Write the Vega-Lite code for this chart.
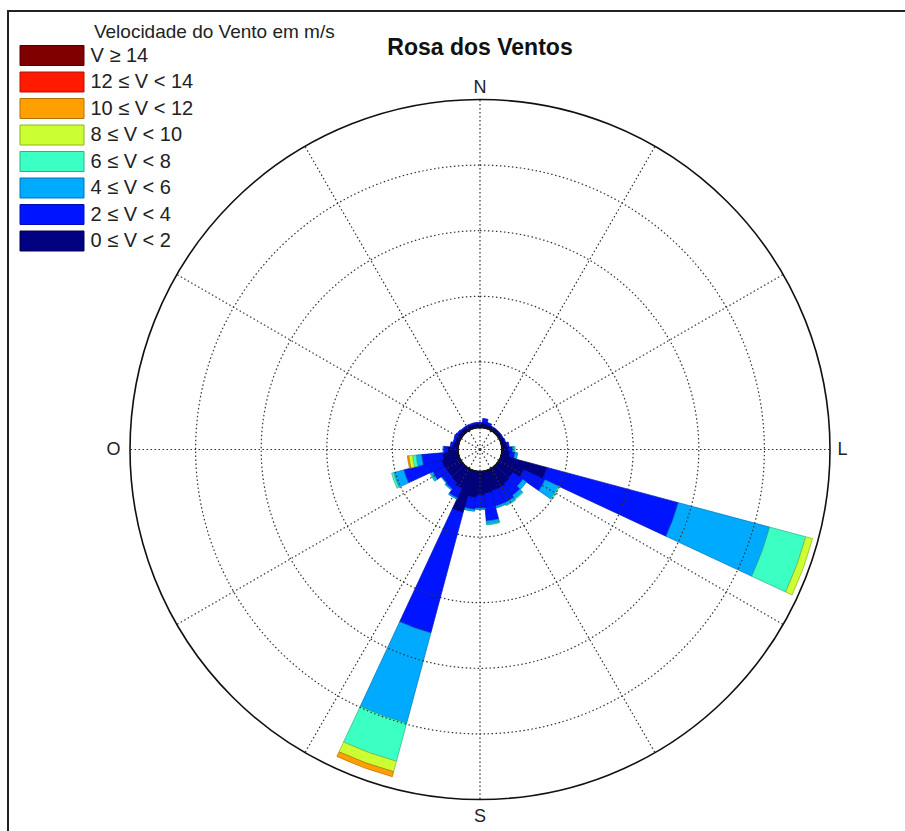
{
  "$schema": "https://vega.github.io/schema/vega-lite/v6.json",
  "width": 944,
  "height": 877,
  "autosize": {"type": "none"},
  "padding": {"left": 8, "top": 11, "right": 0, "bottom": 0},
  "background": "white",
  "config": {"font": "Liberation Sans", "view": {"stroke": "#222", "strokeWidth": 2}},
  "title": {"text": "Rosa dos Ventos", "fontSize": 23, "fontWeight": "bold", "font": "Liberation Sans", "color": "#111", "anchor": "middle", "frame": "group", "offset": -67, "baseline": "alphabetic"},
  "datasets": {
    "bins": [
      {"vmin": 0, "label": "0 ≤ V < 2"},
      {"vmin": 2, "label": "2 ≤ V < 4"},
      {"vmin": 4, "label": "4 ≤ V < 6"},
      {"vmin": 6, "label": "6 ≤ V < 8"},
      {"vmin": 8, "label": "8 ≤ V < 10"},
      {"vmin": 10, "label": "10 ≤ V < 12"},
      {"vmin": 12, "label": "12 ≤ V < 14"},
      {"vmin": 14, "label": "V ≥ 14"}
    ],
    "rose": [
      {"dir": 0, "vmin": 0, "freq": 0.3}, {"dir": 0, "vmin": 2, "freq": 0.1},
      {"dir": 10, "vmin": 0, "freq": 0.35}, {"dir": 10, "vmin": 2, "freq": 0.35},
      {"dir": 20, "vmin": 0, "freq": 0.3}, {"dir": 20, "vmin": 2, "freq": 0.15},
      {"dir": 30, "vmin": 0, "freq": 0.25}, {"dir": 30, "vmin": 2, "freq": 0.05},
      {"dir": 40, "vmin": 0, "freq": 0.25}, {"dir": 40, "vmin": 2, "freq": 0.05},
      {"dir": 50, "vmin": 0, "freq": 0.25}, {"dir": 50, "vmin": 2, "freq": 0.05},
      {"dir": 60, "vmin": 0, "freq": 0.25}, {"dir": 60, "vmin": 2, "freq": 0.05},
      {"dir": 70, "vmin": 0, "freq": 0.3}, {"dir": 70, "vmin": 2, "freq": 0.05},
      {"dir": 80, "vmin": 0, "freq": 0.4}, {"dir": 80, "vmin": 2, "freq": 0.15},
      {"dir": 90, "vmin": 0, "freq": 0.5}, {"dir": 90, "vmin": 2, "freq": 0.3}, {"dir": 90, "vmin": 4, "freq": 0.15}, {"dir": 90, "vmin": 6, "freq": 0.05},
      {"dir": 100, "vmin": 0, "freq": 0.6}, {"dir": 100, "vmin": 2, "freq": 0.4}, {"dir": 100, "vmin": 4, "freq": 0.2},
      {"dir": 110, "vmin": 0, "freq": 3.6}, {"dir": 110, "vmin": 2, "freq": 10.37}, {"dir": 110, "vmin": 4, "freq": 7.21}, {"dir": 110, "vmin": 6, "freq": 2.85}, {"dir": 110, "vmin": 8, "freq": 0.54},
      {"dir": 120, "vmin": 0, "freq": 2.0}, {"dir": 120, "vmin": 2, "freq": 1.8}, {"dir": 120, "vmin": 4, "freq": 1.1}, {"dir": 120, "vmin": 6, "freq": 0.1},
      {"dir": 130, "vmin": 0, "freq": 1.4}, {"dir": 130, "vmin": 2, "freq": 0.9}, {"dir": 130, "vmin": 4, "freq": 0.35},
      {"dir": 140, "vmin": 0, "freq": 1.5}, {"dir": 140, "vmin": 2, "freq": 1.1}, {"dir": 140, "vmin": 4, "freq": 0.3}, {"dir": 140, "vmin": 6, "freq": 0.07},
      {"dir": 150, "vmin": 0, "freq": 1.6}, {"dir": 150, "vmin": 2, "freq": 1.2}, {"dir": 150, "vmin": 4, "freq": 0.2}, {"dir": 150, "vmin": 6, "freq": 0.05},
      {"dir": 160, "vmin": 0, "freq": 1.6}, {"dir": 160, "vmin": 2, "freq": 1.2}, {"dir": 160, "vmin": 4, "freq": 0.15},
      {"dir": 170, "vmin": 0, "freq": 1.7}, {"dir": 170, "vmin": 2, "freq": 2.1}, {"dir": 170, "vmin": 4, "freq": 0.25}, {"dir": 170, "vmin": 6, "freq": 0.05},
      {"dir": 180, "vmin": 0, "freq": 1.8}, {"dir": 180, "vmin": 2, "freq": 1.0}, {"dir": 180, "vmin": 4, "freq": 0.1},
      {"dir": 190, "vmin": 0, "freq": 2.0}, {"dir": 190, "vmin": 2, "freq": 0.9}, {"dir": 190, "vmin": 4, "freq": 0.15},
      {"dir": 200, "vmin": 0, "freq": 3.3}, {"dir": 200, "vmin": 2, "freq": 9.51}, {"dir": 200, "vmin": 4, "freq": 7.11}, {"dir": 200, "vmin": 6, "freq": 3.01}, {"dir": 200, "vmin": 8, "freq": 0.82}, {"dir": 200, "vmin": 10, "freq": 0.39},
      {"dir": 210, "vmin": 0, "freq": 1.6}, {"dir": 210, "vmin": 2, "freq": 0.8}, {"dir": 210, "vmin": 4, "freq": 0.1},
      {"dir": 220, "vmin": 0, "freq": 1.4}, {"dir": 220, "vmin": 2, "freq": 0.6}, {"dir": 220, "vmin": 4, "freq": 0.1},
      {"dir": 230, "vmin": 0, "freq": 1.3}, {"dir": 230, "vmin": 2, "freq": 0.6}, {"dir": 230, "vmin": 4, "freq": 0.05},
      {"dir": 240, "vmin": 0, "freq": 1.3}, {"dir": 240, "vmin": 2, "freq": 1.0}, {"dir": 240, "vmin": 4, "freq": 0.2}, {"dir": 240, "vmin": 6, "freq": 0.05},
      {"dir": 250, "vmin": 0, "freq": 1.37}, {"dir": 250, "vmin": 2, "freq": 2.97}, {"dir": 250, "vmin": 4, "freq": 0.8}, {"dir": 250, "vmin": 6, "freq": 0.16},
      {"dir": 260, "vmin": 0, "freq": 1.18}, {"dir": 260, "vmin": 2, "freq": 1.62}, {"dir": 260, "vmin": 4, "freq": 0.42}, {"dir": 260, "vmin": 6, "freq": 0.26}, {"dir": 260, "vmin": 8, "freq": 0.3}, {"dir": 260, "vmin": 10, "freq": 0.1},
      {"dir": 270, "vmin": 0, "freq": 0.8}, {"dir": 270, "vmin": 2, "freq": 0.3}, {"dir": 270, "vmin": 4, "freq": 0.05},
      {"dir": 280, "vmin": 0, "freq": 0.4}, {"dir": 280, "vmin": 2, "freq": 0.2},
      {"dir": 290, "vmin": 0, "freq": 0.3}, {"dir": 290, "vmin": 2, "freq": 0.15},
      {"dir": 300, "vmin": 0, "freq": 0.3}, {"dir": 300, "vmin": 2, "freq": 0.2},
      {"dir": 310, "vmin": 0, "freq": 0.3}, {"dir": 310, "vmin": 2, "freq": 0.15},
      {"dir": 320, "vmin": 0, "freq": 0.3}, {"dir": 320, "vmin": 2, "freq": 0.1},
      {"dir": 330, "vmin": 0, "freq": 0.3}, {"dir": 330, "vmin": 2, "freq": 0.1},
      {"dir": 340, "vmin": 0, "freq": 0.3}, {"dir": 340, "vmin": 2, "freq": 0.1},
      {"dir": 350, "vmin": 0, "freq": 0.3}, {"dir": 350, "vmin": 2, "freq": 0.1}
    ],
    "rings": [{"r": 5, "t0": 0, "t1": 360}, {"r": 10, "t0": 0, "t1": 360}, {"r": 15, "t0": 0, "t1": 360}, {"r": 20, "t0": 0, "t1": 360}],
    "outer": [{"r": 25, "t0": 0, "t1": 360}],
    "hole": [{"r": 0, "t0": 0, "t1": 360}],
    "spokes": [{"a": 0}, {"a": 30}, {"a": 60}, {"a": 90}, {"a": 120}, {"a": 150}, {"a": 180}, {"a": 210}, {"a": 240}, {"a": 270}, {"a": 300}, {"a": 330}],
    "compass": [{"t": "N", "a": 0, "r": 25.85}, {"t": "L", "a": 90, "r": 25.95}, {"t": "S", "a": 180, "r": 26.35}, {"t": "O", "a": 270, "r": 26.25}]
  },
  "layer": [
    {
      "data": {"name": "rose"},
      "transform": [
        {"lookup": "vmin", "from": {"data": {"name": "bins"}, "key": "vmin", "fields": ["label"]}},
        {"stack": "freq", "groupby": ["dir"], "sort": [{"field": "vmin", "order": "ascending"}], "as": ["r0", "r1"]},
        {"calculate": "datum.dir - 5", "as": "d0"},
        {"calculate": "datum.dir + 5", "as": "d1"}
      ],
      "mark": {"type": "arc", "strokeWidth": 0.7},
      "encoding": {
        "theta": {"field": "d0", "type": "quantitative", "scale": {"type": "linear", "domain": [0, 360], "range": [0, 6.283185307179586]}},
        "theta2": {"field": "d1"},
        "radius": {"field": "r1", "type": "quantitative", "scale": {"type": "linear", "domain": [0, 25], "range": [22, 350], "zero": false, "nice": false}},
        "radius2": {"field": "r0"},
        "fill": {
          "field": "label", "type": "nominal",
          "scale": {"domain": ["V ≥ 14", "12 ≤ V < 14", "10 ≤ V < 12", "8 ≤ V < 10", "6 ≤ V < 8", "4 ≤ V < 6", "2 ≤ V < 4", "0 ≤ V < 2"],
                    "range": ["#800000", "#ff1a00", "#ffa000", "#ccff33", "#3cffc3", "#00aaff", "#0014ff", "#000080"]},
          "legend": {"title": "\u200b\u00a0\u00a0\u00a0\u00a0\u00a0\u00a0\u00a0\u00a0\u00a0\u00a0\u00a0\u00a0\u00a0\u00a0Velocidade do Vento em m/s", "orient": "none", "legendX": 12, "legendY": 12, "padding": 0,
                     "titleFontSize": 19, "titleFontWeight": "normal", "titleColor": "#222", "titleFont": "Liberation Sans", "titlePadding": 3, "titleLimit": 500,
                     "labelFontSize": 20, "labelFont": "Liberation Sans", "labelColor": "#222", "labelOffset": 28, "labelLimit": 300,
                     "symbolType": "M-3.2,-1H3.2V1H-3.2Z", "symbolSize": 400, "symbolOffset": 21.5, "symbolStrokeWidth": 1, "symbolStrokeColor": "rgba(0,0,0,0.35)", "rowPadding": 1.5}
        },
        "stroke": {
          "field": "label", "type": "nominal",
          "scale": {"domain": ["V ≥ 14", "12 ≤ V < 14", "10 ≤ V < 12", "8 ≤ V < 10", "6 ≤ V < 8", "4 ≤ V < 6", "2 ≤ V < 4", "0 ≤ V < 2"],
                    "range": ["#4d0000", "#b31200", "#b37000", "#8fb324", "#2ab389", "#0077b3", "#000eb3", "#000050"]},
          "legend": null
        }
      }
    },
    {
      "data": {"name": "rings"},
      "mark": {"type": "arc", "filled": false, "stroke": "#333", "strokeWidth": 1.2, "strokeDash": [1.5, 2.5]},
      "encoding": {
        "theta": {"field": "t0", "type": "quantitative"},
        "theta2": {"field": "t1"},
        "radius": {"field": "r", "type": "quantitative"}
      }
    },
    {
      "data": {"name": "spokes"},
      "transform": [
        {"calculate": "350 * sin(datum.a * PI / 180)", "as": "sx"},
        {"calculate": "350 * cos(datum.a * PI / 180)", "as": "sy"},
        {"calculate": "0", "as": "cx"}
      ],
      "mark": {"type": "rule", "stroke": "#333", "strokeWidth": 1.2, "strokeDash": [1.5, 2.5]},
      "encoding": {
        "x": {"field": "cx", "type": "quantitative", "scale": {"domain": [-472, 472], "nice": false, "zero": false}, "axis": null},
        "y": {"field": "cx", "type": "quantitative", "scale": {"domain": [-438.5, 438.5], "nice": false, "zero": false}, "axis": null},
        "x2": {"field": "sx"},
        "y2": {"field": "sy"}
      }
    },
    {
      "data": {"name": "hole"},
      "mark": {"type": "arc", "fill": "white", "strokeWidth": 0},
      "encoding": {
        "theta": {"field": "t0", "type": "quantitative"},
        "theta2": {"field": "t1"},
        "radius": {"field": "r", "type": "quantitative"}
      }
    },
    {
      "data": {"name": "outer"},
      "mark": {"type": "arc", "filled": false, "stroke": "#111", "strokeWidth": 1.6},
      "encoding": {
        "theta": {"field": "t0", "type": "quantitative"},
        "theta2": {"field": "t1"},
        "radius": {"field": "r", "type": "quantitative"}
      }
    },
    {
      "data": {"name": "compass"},
      "mark": {"type": "text", "fontSize": 18, "font": "Liberation Sans", "color": "#222", "align": "center", "baseline": "middle"},
      "encoding": {
        "theta": {"field": "a", "type": "quantitative"},
        "radius": {"field": "r", "type": "quantitative"},
        "text": {"field": "t"}
      }
    }
  ]
}
